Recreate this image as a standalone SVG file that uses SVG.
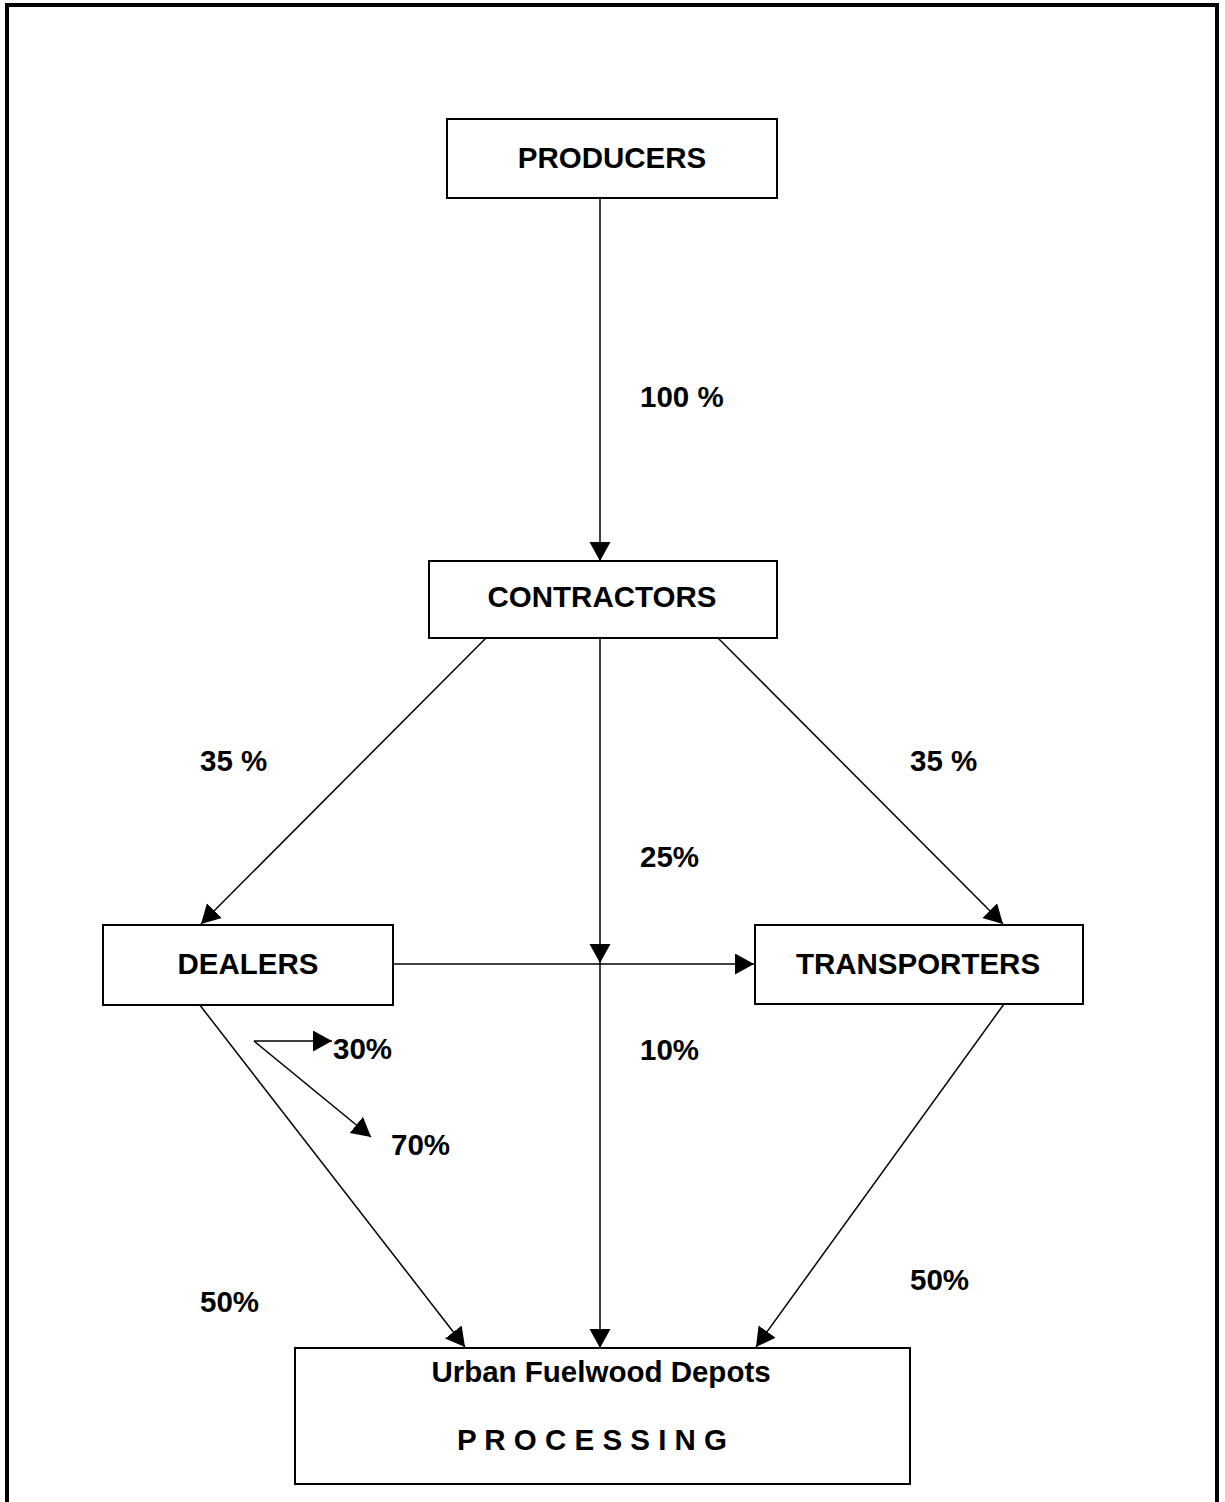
<svg xmlns="http://www.w3.org/2000/svg" width="1225" height="1502" viewBox="0 0 1225 1502">
<style>
.box{fill:#fff;stroke:#000;stroke-width:2}
.lbl{font-family:"Liberation Sans",Arial,sans-serif;font-weight:bold;font-size:29.5px;fill:#000}
.mid{text-anchor:middle}
.con{fill:none;stroke:#000;stroke-width:1.5}
.arr{marker-end:url(#ah)}
</style>
<defs>
<marker id="ah" markerUnits="userSpaceOnUse" markerWidth="20" markerHeight="22" refX="19" refY="10.5" orient="auto" viewBox="0 0 20 22">
<path d="M0,0 L19,10.5 L0,21 Z" fill="#000"/>
</marker>
</defs>
<rect x="7" y="5" width="1210" height="1520" fill="none" stroke="#000" stroke-width="4"/>
<g id="connectors">
<line class="con arr" x1="600" y1="198" x2="600" y2="561"/>
<line class="con arr" x1="487" y1="637" x2="201" y2="924"/>
<line class="con arr" x1="717" y1="637" x2="1003" y2="924"/>
<line class="con arr" x1="600" y1="638" x2="600" y2="963"/>
<line class="con arr" x1="600" y1="963" x2="600" y2="1348"/>
<line class="con arr" x1="393" y1="964" x2="754" y2="964"/>
<line class="con arr" x1="199" y1="1004" x2="465" y2="1347"/>
<line class="con arr" x1="1004" y1="1004" x2="756" y2="1347"/>
<line class="con arr" x1="254" y1="1041" x2="332" y2="1041"/>
<line class="con arr" x1="254" y1="1041" x2="371" y2="1137"/>
</g>
<g id="producers">
<rect class="box" x="447" y="119" width="330" height="79"/>
<text class="lbl mid" x="612" y="168">PRODUCERS</text>
</g>
<g id="contractors">
<rect class="box" x="429" y="561" width="348" height="77"/>
<text class="lbl mid" x="602" y="607">CONTRACTORS</text>
</g>
<g id="dealers">
<rect class="box" x="103" y="925" width="290" height="80"/>
<text class="lbl mid" x="248" y="974">DEALERS</text>
</g>
<g id="transporters">
<rect class="box" x="755" y="925" width="328" height="79"/>
<text class="lbl mid" x="918" y="974">TRANSPORTERS</text>
</g>
<g id="depots">
<rect class="box" x="295" y="1348" width="615" height="136"/>
<text class="lbl mid" x="601" y="1382">Urban Fuelwood Depots</text>
<text class="lbl mid" x="592" y="1450">P R O C E S S I N G</text>
</g>
<g id="labels">
<text class="lbl" x="640" y="407">100 %</text>
<text class="lbl" x="200" y="771">35 %</text>
<text class="lbl" x="910" y="771">35 %</text>
<text class="lbl" x="640" y="867">25%</text>
<text class="lbl" x="640" y="1060">10%</text>
<text class="lbl" x="333" y="1059">30%</text>
<text class="lbl" x="391" y="1155">70%</text>
<text class="lbl" x="200" y="1312">50%</text>
<text class="lbl" x="910" y="1290">50%</text>
</g>
</svg>
